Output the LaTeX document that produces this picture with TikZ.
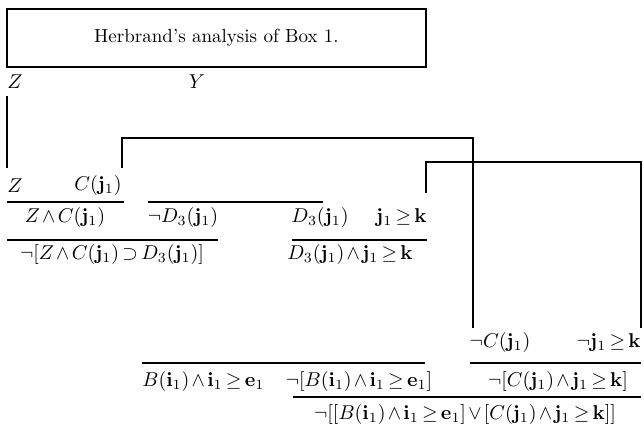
\documentclass[tikz,border=0pt]{standalone}
\usepackage{amsmath}
\newcommand\mytightmath{\medmuskip=2mu\relax\thickmuskip=3mu\relax}
\begin{document}
\begin{tikzpicture}[x=0.5pt,y=-0.5pt,
  lbl/.style={inner sep=0pt, font=\fontsize{10}{12}\selectfont\mytightmath},
  rulel/.style={line width=0.7pt},
  brk/.style={line width=0.7pt},
  titlebox/.style={draw, line width=1pt, minimum width=209.5pt, minimum height=29pt, inner sep=0pt, font=\fontsize{9.5}{11}\selectfont}]
\useasboundingbox (0,0) rectangle (644,427);
% title
\node[titlebox] (title) at (216.5,38) {Herbrand's analysis of Box 1.};
\node[lbl, anchor=west] (zt) at (7,82) {$Z$};
\node[lbl] (yt) at (197,82) {$Y$};
% row 1
\node[lbl, anchor=west] (z1) at (7,186) {$Z$};
\node[lbl, anchor=east] (c1) at (122,186) {$C(\mathbf{j}_1)$};
% row 2
\node[lbl] (zc) at (65,218) {$Z\wedge C(\mathbf{j}_1)$};
\node[lbl] (nd) at (183,218) {$\neg D_3(\mathbf{j}_1)$};
\node[lbl] (d3) at (320,218) {$D_3(\mathbf{j}_1)$};
\node[lbl, anchor=east] (jk) at (427,218) {$\mathbf{j}_1\geq\mathbf{k}$};
% row 3
\node[lbl] (nzcd) at (112,255) {$\neg[Z\wedge C(\mathbf{j}_1)\supset D_3(\mathbf{j}_1)]$};
\node[lbl] (djk) at (350,255) {$D_3(\mathbf{j}_1)\wedge\mathbf{j}_1\geq\mathbf{k}$};
% row 4
\node[lbl] (nc) at (500,343) {$\neg C(\mathbf{j}_1)$};
\node[lbl, anchor=east] (njk) at (641,343) {$\neg\mathbf{j}_1\geq\mathbf{k}$};
% row 5
\node[lbl, anchor=west] (bie) at (142,382) {$B(\mathbf{i}_1)\wedge\mathbf{i}_1\geq\mathbf{e}_1$};
\node[lbl] (nbie) at (359,382) {$\neg[B(\mathbf{i}_1)\wedge\mathbf{i}_1\geq\mathbf{e}_1]$};
\node[lbl] (ncjk) at (558,382) {$\neg[C(\mathbf{j}_1)\wedge\mathbf{j}_1\geq\mathbf{k}]$};
% row 6
\node[lbl] (fin) at (465,415) {$\neg[[B(\mathbf{i}_1)\wedge\mathbf{i}_1\geq\mathbf{e}_1]\vee[C(\mathbf{j}_1)\wedge\mathbf{j}_1\geq\mathbf{k}]]$};
% inference lines
\draw[rulel] (7,202) -- (124,202);
\draw[rulel] (148,202) -- (323,202);
\draw[rulel] (7,240) -- (218,240);
\draw[rulel] (292,240) -- (427,240);
\draw[rulel] (142,363) -- (425,363);
\draw[rulel] (470,363) -- (641,363);
\draw[rulel] (293,397) -- (641,397);
% connectors
\coordinate (za) at (7,96);
\coordinate (zb) at (7,168);
\draw[brk] (za) -- (zb);
\coordinate (b1a) at (122,168);
\coordinate (b1b) at (473,328);
\draw[brk] (b1a) |- (473,138) -- (b1b);
\coordinate (b2a) at (426,193);
\coordinate (b2b) at (641,328);
\draw[brk] (b2a) |- (641,162) -- (b2b);
\end{tikzpicture}
\end{document}
